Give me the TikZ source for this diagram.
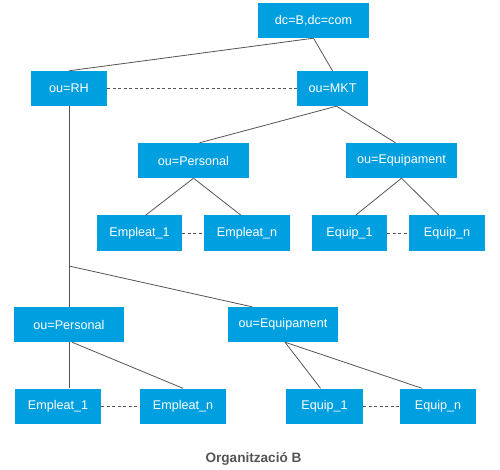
\documentclass[tikz,border=0pt]{standalone}
\usepackage{fontspec}
\setmainfont{Liberation Sans}
\usetikzlibrary{calc}
\definecolor{boxblue}{HTML}{009FDF}
\definecolor{linegray}{HTML}{555555}

\begin{document}
\begin{tikzpicture}[x=1pt,y=-1pt,
  box/.style={fill=boxblue, text=white, inner sep=0pt, minimum height=35pt, font=\fontsize{12.6}{14}\selectfont},
  tie/.style={draw=linegray, line width=0.8pt},
  dots/.style={draw=linegray, line width=0.8pt, dash pattern=on 3pt off 2.5pt}]
  \useasboundingbox (0,0) rectangle (500,470);
  \node[box, minimum width=111pt] (dc) at (313.5,20.5) {dc=B,dc=com};
  \node[box, minimum width=76pt] (rh) at (69,88.5) {ou=RH};
  \node[box, minimum width=71pt] (mkt) at (332.5,88.5) {ou=MKT};
  \node[box, minimum width=111pt] (pers) at (193.5,160.5) {ou=Personal};
  \node[box, minimum width=111pt] (equ) at (401.5,160.5) {ou=Equipament};
  \node[box, minimum width=85pt] (emp1) at (139.5,233) {Empleat\_1};
  \node[box, minimum width=86pt] (empn) at (247,233) {Empleat\_n};
  \node[box, minimum width=75pt] (eq1) at (349.5,233) {Equip\_1};
  \node[box, minimum width=76pt] (eqn) at (447,233) {Equip\_n};
  \node[box, minimum width=110pt] (bpers) at (69,324.5) {ou=Personal};
  \node[box, minimum width=110pt] (bequ) at (283,324.5) {ou=Equipament};
  \node[box, minimum width=86pt] (bemp1) at (58,406) {Empleat\_1};
  \node[box, minimum width=86pt] (bempn) at (183,406) {Empleat\_n};
  \node[box, minimum width=77pt] (beq1) at (324.5,406) {Equip\_1};
  \node[box, minimum width=76pt] (beqn) at (438,406) {Equip\_n};
  \node[text=linegray, font=\fontsize{13.6}{16}\selectfont\bfseries] (cap) at (253.5,459) {Organització B};
  \coordinate (split) at (69,266);

  \draw[tie] (dc.south) -- (rh.north);
  \draw[tie] (dc.south) -- (mkt.north);
  \draw[dots] (rh.east) -- (mkt.west);
  \draw[tie] ([xshift=4pt]mkt.south) -- ([xshift=6pt]pers.north);
  \draw[tie] ([xshift=4pt]mkt.south) -- ([xshift=-6pt]equ.north);
  \draw[tie] (pers.south) -- ([xshift=6pt]emp1.north);
  \draw[tie] (pers.south) -- ([xshift=-6pt]empn.north);
  \draw[dots] (emp1.east) -- (empn.west);
  \draw[tie] (equ.south) -- ([xshift=6pt]eq1.north);
  \draw[tie] (equ.south) -- ([xshift=-8pt]eqn.north);
  \draw[dots] (eq1.east) -- (eqn.west);
  \draw[tie] (rh.south) -- (bpers.north);
  \draw[tie] (split) -- ([xshift=-31pt]bequ.north);
  \draw[tie] (bpers.south) -- (bpers.south |- bemp1.north);
  \draw[tie] ([xshift=3pt]bpers.south) -- (bempn.north);
  \draw[dots] (bemp1.east) -- (bempn.west);
  \draw[tie] ([xshift=2pt]bequ.south) -- ([xshift=-4pt]beq1.north);
  \draw[tie] ([xshift=2pt]bequ.south) -- ([xshift=-16pt]beqn.north);
  \draw[dots] (beq1.east) -- (beqn.west);
\end{tikzpicture}
\end{document}
